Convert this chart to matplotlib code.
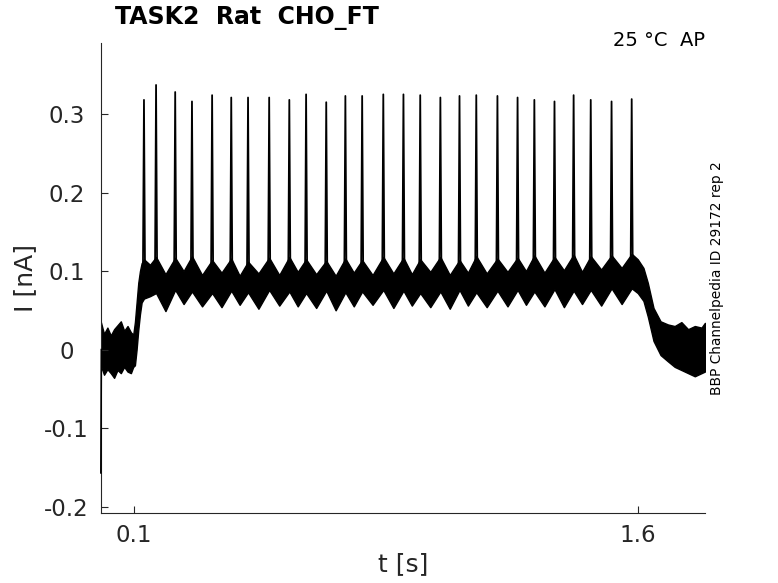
import matplotlib
matplotlib.use("Agg")
from matplotlib import pyplot as plt

plt.rcParams['axes.unicode_minus'] = False

# spike times [s] and peak currents [nA]
spike_t = [0.129, 0.165, 0.222, 0.272, 0.332, 0.389, 0.439, 0.502, 0.562, 0.612,
           0.672, 0.729, 0.779, 0.842, 0.902, 0.952, 1.012, 1.069, 1.119, 1.182,
           1.242, 1.292, 1.352, 1.409, 1.460, 1.522, 1.582]
spike_peak = [0.318, 0.337, 0.328, 0.316, 0.324, 0.321, 0.321, 0.321, 0.318, 0.325,
              0.315, 0.323, 0.323, 0.325, 0.325, 0.324, 0.321, 0.323, 0.324, 0.323,
              0.321, 0.318, 0.316, 0.324, 0.318, 0.316, 0.319]

# band of overlapping sweeps around each spike (hump) ...
hump_hi = [0.115, 0.118, 0.117, 0.119, 0.114, 0.116, 0.112, 0.117, 0.118, 0.115,
           0.113, 0.116, 0.114, 0.118, 0.117, 0.115, 0.118, 0.114, 0.119, 0.116,
           0.117, 0.120, 0.118, 0.121, 0.119, 0.120, 0.122]
hump_lo = [0.065, 0.072, 0.076, 0.074, 0.072, 0.075, 0.073, 0.076, 0.074, 0.072,
           0.075, 0.073, 0.074, 0.076, 0.075, 0.072, 0.074, 0.076, 0.073, 0.075,
           0.076, 0.074, 0.077, 0.075, 0.076, 0.078, 0.078]
# ... and in the dips between spikes
dip_t = [0.147, 0.193, 0.247, 0.302, 0.360, 0.414, 0.470, 0.532, 0.587, 0.642,
         0.700, 0.754, 0.810, 0.872, 0.927, 0.982, 1.040, 1.094, 1.150, 1.212,
         1.267, 1.322, 1.380, 1.434, 1.491, 1.552]
dip_hi = [0.108, 0.096, 0.100, 0.095, 0.098, 0.094, 0.097, 0.095, 0.099, 0.096,
          0.094, 0.098, 0.095, 0.097, 0.096, 0.099, 0.095, 0.098, 0.097, 0.099,
          0.100, 0.098, 0.101, 0.099, 0.102, 0.104]
dip_lo = [0.068, 0.049, 0.058, 0.055, 0.054, 0.057, 0.052, 0.056, 0.055, 0.053,
          0.050, 0.055, 0.057, 0.053, 0.056, 0.054, 0.052, 0.056, 0.054, 0.055,
          0.057, 0.055, 0.054, 0.058, 0.056, 0.058]

# holding before the step, rise, and decay after it
pre_t = [0.0, 0.01, 0.02, 0.03, 0.04, 0.05, 0.06, 0.07, 0.08, 0.09, 0.097]
pre_hi = [0.036, 0.020, 0.028, 0.018, 0.026, 0.031, 0.036, 0.024, 0.030, 0.022, 0.019]
pre_lo = [-0.020, -0.032, -0.025, -0.030, -0.036, -0.026, -0.030, -0.022, -0.028, -0.030, -0.022]
rise_t = [0.102, 0.107, 0.112, 0.117, 0.122]
rise_hi = [0.035, 0.060, 0.085, 0.100, 0.110]
rise_lo = [-0.020, 0.000, 0.025, 0.045, 0.060]
post_t = [1.600, 1.617, 1.630, 1.647, 1.668, 1.690, 1.710, 1.730, 1.750, 1.770, 1.790, 1.800]
post_hi = [0.115, 0.104, 0.085, 0.053, 0.036, 0.032, 0.030, 0.035, 0.026, 0.030, 0.028, 0.034]
post_lo = [0.072, 0.062, 0.042, 0.011, -0.007, -0.015, -0.022, -0.026, -0.030, -0.034, -0.030, -0.028]

onset_t = [0.0006, 0.002]
onset_i = [-0.157, 0.0]

# assemble band
band_t, band_hi, band_lo = list(pre_t), list(pre_hi), list(pre_lo)
band_t += rise_t
band_hi += rise_hi
band_lo += rise_lo
for i in range(len(spike_t)):
    band_t.append(spike_t[i])
    band_hi.append(hump_hi[i])
    band_lo.append(hump_lo[i])
    if i < len(dip_t):
        band_t.append(dip_t[i])
        band_hi.append(dip_hi[i])
        band_lo.append(dip_lo[i])
band_t += post_t
band_hi += post_hi
band_lo += post_lo

fig = plt.figure(figsize=(7.78, 5.83), dpi=100)
ax = fig.add_axes([0.1294, 0.1206, 0.7766, 0.8056])

ax.fill_between(band_t, band_lo, band_hi, color='black', lw=1.0, edgecolor='black')
ax.plot(onset_t, onset_i, color='black', lw=1.2, zorder=3, clip_on=False)
for i in range(len(spike_t)):
    t = spike_t[i]
    ax.plot([t - 0.003, t, t + 0.003], [hump_hi[i] - 0.01, spike_peak[i], hump_hi[i] - 0.01],
            color='black', lw=1.3)

ax.set_xlim(0, 1.8)
ax.set_ylim(-0.2077, 0.3904)
ax.set_xticks([0.1, 1.6])
ax.set_xticklabels(['0.1', '1.6'])
ax.set_yticks([-0.2, -0.1, 0, 0.1, 0.2, 0.3])
ax.set_yticklabels(['-0.2', '-0.1', '0', '0.1', '0.2', '0.3'])

gray = '#262626'
for s in ['top', 'right']:
    ax.spines[s].set_visible(False)
for s in ['left', 'bottom']:
    ax.spines[s].set_color(gray)
    ax.spines[s].set_linewidth(0.8)
ax.tick_params(direction='in', length=5, width=0.8, colors=gray, labelsize=16.5)
ax.tick_params(axis='x', pad=8)
ax.tick_params(axis='y', pad=24.5)
for lbl in ax.get_yticklabels():
    lbl.set_horizontalalignment('center')

ax.set_xlabel('t [s]', fontsize=18, color=gray, labelpad=4)
ax.set_ylabel('I [nA]', fontsize=18, color=gray, labelpad=5)

fig.text(115 / 778, 1 - 18 / 583, 'TASK2  Rat  CHO_FT', fontsize=17, fontweight='bold',
         ha='left', va='center', color='black')
fig.text(705 / 778, 1 - 40 / 583, '25 °C  AP', fontsize=14, ha='right', va='center',
         color='black')
fig.text(716.5 / 778, 1 - 278 / 583, 'BBP Channelpedia ID 29172 rep 2', fontsize=9.9,
         rotation=90, ha='center', va='center', color='black')

fig.savefig('out.png', dpi=100)
